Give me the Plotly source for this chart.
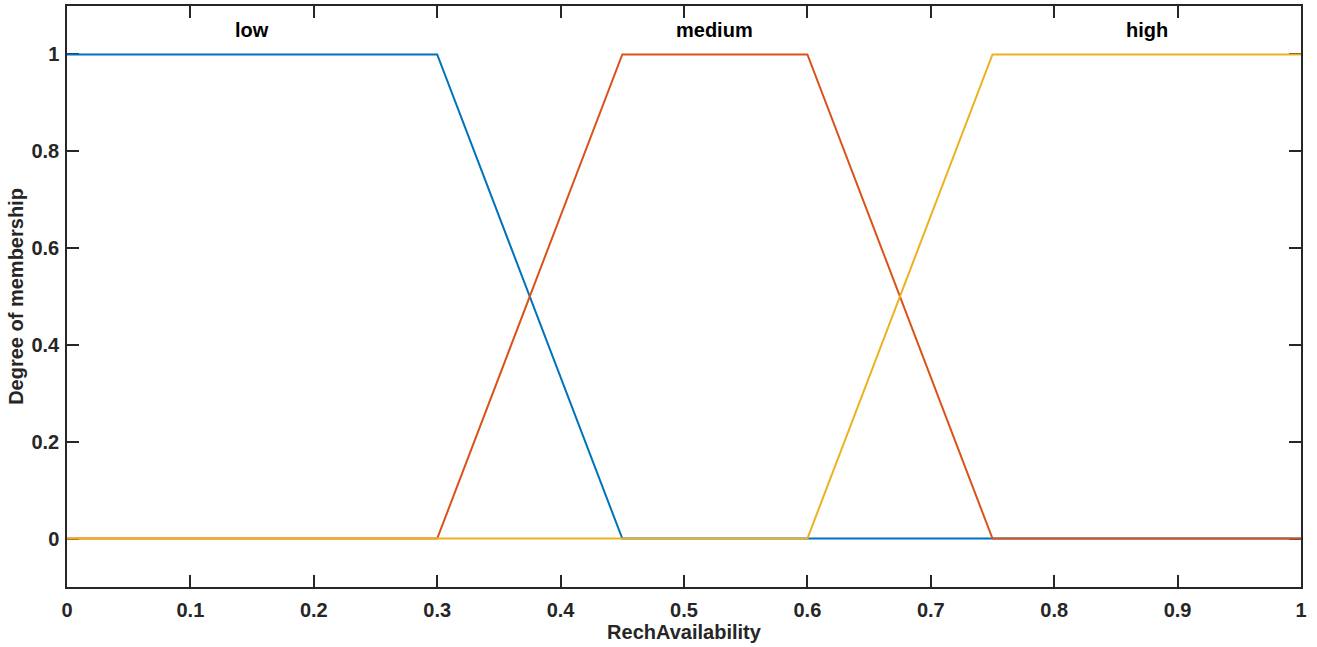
import plotly.graph_objects as go

x_low = [0, 0.3, 0.45, 1]
y_low = [1, 1, 0, 0]
x_med = [0, 0.3, 0.45, 0.6, 0.75, 1]
y_med = [0, 0, 1, 1, 0, 0]
x_high = [0, 0.6, 0.75, 1]
y_high = [0, 0, 1, 1]

mf_names = ["low", "medium", "high"]
mf_label_x = [0.15, 0.525, 0.875]
mf_label_y = 1.05

x_ticks = [0, 0.1, 0.2, 0.3, 0.4, 0.5, 0.6, 0.7, 0.8, 0.9, 1]
x_ticktext = ["0", "0.1", "0.2", "0.3", "0.4", "0.5", "0.6", "0.7", "0.8", "0.9", "1"]
y_ticks = [0, 0.2, 0.4, 0.6, 0.8, 1]
y_ticktext = ["0", "0.2", "0.4", "0.6", "0.8", "1"]

colors = ["#0072BD", "#D95319", "#EDB120"]
FONT = "Liberation Sans"
FS = 20

fig = go.Figure()
for xs, ys, c, n in [(x_low, y_low, colors[0], mf_names[0]),
                     (x_med, y_med, colors[1], mf_names[1]),
                     (x_high, y_high, colors[2], mf_names[2])]:
    fig.add_trace(go.Scatter(x=xs, y=ys, mode="lines", name=n,
                             line=dict(color=c, width=2), showlegend=False))

for n, xv in zip(mf_names, mf_label_x):
    fig.add_annotation(x=xv, y=mf_label_y, text=n, showarrow=False,
                       xref="x", yref="y",
                       font=dict(family=FONT, size=FS, color="#000000", weight="bold"))

axis_common = dict(showline=True, linecolor="#262626", linewidth=1.5, mirror="allticks",
                   ticks="inside", ticklen=12, tickwidth=1.5, tickcolor="#262626",
                   showgrid=False, zeroline=False, layer="below traces",
                   tickfont=dict(family=FONT, size=FS, color="#262626", weight="bold"))

fig.update_xaxes(range=[0, 1], tickvals=x_ticks, ticktext=x_ticktext,
                 ticklabelstandoff=4,
                 title=dict(text="RechAvailability", standoff=5,
                            font=dict(family=FONT, size=FS, color="#262626", weight="bold")),
                 **axis_common)
fig.update_yaxes(range=[-0.1, 1.1], tickvals=y_ticks, ticktext=y_ticktext,
                 ticklabelstandoff=2,
                 title=dict(text="Degree of membership", standoff=2,
                            font=dict(family=FONT, size=FS, color="#262626", weight="bold")),
                 **axis_common)

fig.update_layout(width=1317, height=647,
                  margin=dict(l=67, r=16, t=5.5, b=59.5),
                  plot_bgcolor="white", paper_bgcolor="white",
                  font=dict(family=FONT, size=FS, color="#262626"))

fig.write_html("out.html")
